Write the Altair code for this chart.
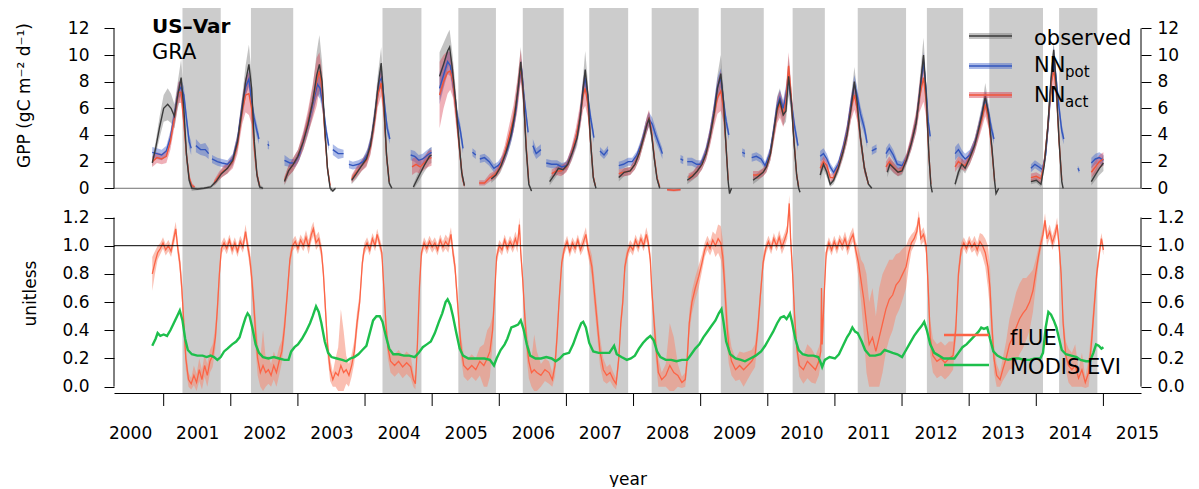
import altair as alt
import pandas as pd

FONT = "DejaVu Sans"

# ---------------- data ----------------
DRY_START = [2001.28, 2002.30, 2004.26, 2005.39, 2006.35, 2007.34, 2008.27,
             2009.30, 2010.37, 2011.34, 2012.37, 2013.30, 2014.34]
DRY_END = [2001.85, 2002.93, 2004.84, 2005.95, 2006.96, 2007.92, 2008.97,
           2009.94, 2010.85, 2012.06, 2012.91, 2014.10, 2014.91]

# (time, value, half-width of band); None = gap
OBS = [
    (2000.83, 1.9, 0.3), (2000.88, 3.0, 0.5), (2000.94, 4.6, 0.8), (2001.00, 6.0, 1.0),
    (2001.06, 6.3, 1.2), (2001.11, 6.0, 1.1), (2001.16, 5.4, 0.9), (2001.21, 7.0, 1.0),
    (2001.26, 8.3, 1.4), (2001.30, 6.0, 1.0), (2001.34, 2.5, 0.6), (2001.38, 0.6, 0.3),
    (2001.42, 0.0, 0.2), (2001.50, -0.05, 0.1), (2001.60, 0.0, 0.1), (2001.70, 0.1, 0.1),
    (2001.78, 0.5, 0.2), (2001.86, 1.1, 0.3), (2001.95, 1.5, 0.4), (2002.03, 2.1, 0.4),
    (2002.10, 3.5, 0.6), (2002.17, 6.0, 0.9), (2002.22, 8.0, 1.2), (2002.27, 9.3, 1.5),
    (2002.31, 7.5, 1.0), (2002.35, 3.5, 0.6), (2002.39, 1.0, 0.3), (2002.43, 0.1, 0.2),
    (2002.48, 0.0, 0.1), None,
    (2002.80, 0.5, 0.3), (2002.86, 1.3, 0.4), (2002.93, 1.8, 0.5), (2003.00, 2.4, 0.5),
    (2003.08, 3.5, 0.6), (2003.15, 4.8, 0.8), (2003.22, 6.5, 1.1), (2003.28, 8.5, 1.7),
    (2003.32, 9.3, 2.2), (2003.36, 8.0, 1.5), (2003.40, 4.5, 0.8), (2003.44, 1.5, 0.4),
    (2003.48, 0.0, 0.2), (2003.52, -0.2, 0.1), (2003.56, 0.0, 0.1), None,
    (2003.80, 0.6, 0.3), (2003.87, 1.1, 0.4), (2003.95, 1.7, 0.4), (2004.02, 2.2, 0.5),
    (2004.08, 3.2, 0.6), (2004.14, 5.2, 0.8), (2004.19, 7.5, 1.0), (2004.24, 9.4, 1.2),
    (2004.28, 6.5, 1.0), (2004.32, 2.5, 0.6), (2004.36, 0.4, 0.2), (2004.40, 0.0, 0.1), None,
    (2004.72, 0.1, 0.2), (2004.80, 0.9, 0.4), (2004.88, 1.7, 0.5), (2004.96, 2.4, 0.6),
    (2004.99, 2.5, 0.6), None,
    (2005.11, 8.4, 1.8), (2005.17, 9.3, 1.6), (2005.23, 10.3, 1.3), (2005.26, 10.6, 1.3),
    (2005.30, 9.0, 1.2), (2005.35, 6.5, 1.0), (2005.40, 3.5, 0.7), (2005.44, 1.2, 0.4),
    (2005.48, 0.2, 0.2), None,
    (2005.88, 0.7, 0.3), (2005.95, 1.0, 0.3), (2006.02, 1.6, 0.4), (2006.10, 2.7, 0.5),
    (2006.17, 3.9, 0.6), (2006.23, 5.5, 0.8), (2006.28, 7.5, 1.0), (2006.32, 9.5, 1.1),
    (2006.36, 7.0, 1.0), (2006.40, 3.0, 0.6), (2006.44, 0.3, 0.2), (2006.48, -0.2, 0.1), None,
    (2006.75, 0.5, 0.3), (2006.82, 1.0, 0.3), (2006.88, 1.5, 0.4), (2006.95, 1.4, 0.4),
    (2007.02, 1.8, 0.4), (2007.09, 2.7, 0.5), (2007.16, 3.8, 0.6), (2007.21, 5.5, 0.8),
    (2007.25, 7.5, 1.0), (2007.28, 8.9, 1.4), (2007.32, 7.0, 1.0), (2007.36, 3.5, 0.6),
    (2007.40, 0.8, 0.3), (2007.44, 0.0, 0.1), None,
    (2007.78, 0.8, 0.3), (2007.86, 1.2, 0.3), (2007.95, 1.3, 0.3), (2008.02, 1.8, 0.4),
    (2008.09, 2.7, 0.5), (2008.15, 3.8, 0.5), (2008.20, 4.8, 0.6), (2008.23, 5.2, 0.6),
    (2008.27, 4.0, 0.5), (2008.31, 2.2, 0.4), (2008.35, 0.7, 0.2), (2008.39, 0.0, 0.1), None,
    (2008.80, 0.6, 0.3), (2008.88, 0.9, 0.3), (2008.95, 1.3, 0.4), (2009.02, 1.8, 0.4),
    (2009.08, 2.6, 0.5), (2009.14, 3.9, 0.6), (2009.20, 5.6, 0.8), (2009.25, 7.5, 1.0),
    (2009.30, 8.6, 1.4), (2009.34, 6.5, 1.0), (2009.38, 3.0, 0.6), (2009.41, 0.5, 0.2),
    (2009.43, -0.4, 0.1), (2009.46, 0.0, 0.1), None,
    (2009.78, 0.6, 0.3), (2009.86, 0.9, 0.3), (2009.93, 1.2, 0.3), (2009.98, 1.6, 0.4),
    (2010.04, 2.6, 0.5), (2010.09, 4.3, 0.7), (2010.14, 6.0, 0.9), (2010.18, 6.6, 0.9),
    (2010.23, 5.5, 0.8), (2010.27, 5.8, 0.8), (2010.31, 8.4, 1.5), (2010.35, 6.5, 1.0),
    (2010.39, 3.5, 0.6), (2010.43, 1.0, 0.3), (2010.46, 0.0, 0.1), (2010.48, -0.3, 0.1), None,
    (2010.78, 1.0, 0.4), (2010.83, 1.8, 0.4), (2010.88, 1.2, 0.4), (2010.93, 0.3, 0.2),
    (2010.98, 0.6, 0.3), (2011.05, 1.5, 0.4), (2011.12, 2.7, 0.5), (2011.18, 4.0, 0.6),
    (2011.24, 6.0, 0.8), (2011.29, 8.0, 1.1), (2011.33, 6.5, 0.9), (2011.38, 3.8, 0.6),
    (2011.44, 1.5, 0.4), (2011.50, 0.3, 0.1), (2011.55, 0.0, 0.1), None,
    (2011.78, 1.2, 0.4), (2011.82, 1.8, 0.4), (2011.88, 1.5, 0.4), (2011.94, 1.2, 0.3),
    (2012.00, 1.3, 0.3), (2012.07, 2.2, 0.4), (2012.14, 3.4, 0.5), (2012.21, 4.9, 0.7),
    (2012.26, 7.0, 1.0), (2012.32, 10.0, 1.3), (2012.36, 7.0, 1.0), (2012.40, 2.5, 0.5),
    (2012.43, 0.2, 0.1), (2012.45, -0.3, 0.1), None,
    (2012.79, 0.3, 0.2), (2012.84, 1.2, 0.4), (2012.89, 1.8, 0.4), (2012.94, 1.5, 0.4),
    (2013.01, 2.3, 0.5), (2013.08, 3.2, 0.5), (2013.13, 4.2, 0.6), (2013.19, 5.5, 0.7),
    (2013.24, 6.9, 1.0), (2013.29, 5.5, 0.8), (2013.34, 3.0, 0.5), (2013.38, 0.5, 0.2),
    (2013.40, -0.4, 0.1), (2013.44, 0.0, 0.1), None,
    (2013.92, 0.5, 0.2), (2014.00, 0.6, 0.2), (2014.07, 0.3, 0.2), (2014.12, 1.8, 0.4),
    (2014.17, 4.5, 0.7), (2014.22, 8.2, 1.0), (2014.26, 10.4, 0.6), (2014.30, 7.5, 0.8),
    (2014.34, 3.5, 0.5), (2014.38, 0.5, 0.2), (2014.40, 0.0, 0.1), None,
    (2014.82, 0.5, 0.3), (2014.88, 1.0, 0.4), (2014.94, 1.5, 0.5), (2015.00, 1.9, 0.6),
]

NN_POT = [
    (2000.83, 2.7, 0.4), (2000.90, 2.6, 0.4), (2000.97, 2.5, 0.4), (2001.04, 2.8, 0.4),
    (2001.10, 3.8, 0.5), (2001.16, 5.5, 0.6), (2001.22, 7.3, 0.6), (2001.26, 7.6, 0.6),
    (2001.30, 7.0, 0.6), (2001.34, 5.2, 0.6), (2001.38, 3.5, 0.5), (2001.41, 3.0, 0.5), None,
    (2001.48, 3.2, 0.5), (2001.55, 2.9, 0.4), (2001.62, 2.9, 0.5), (2001.67, 2.6, 0.4), None,
    (2001.72, 2.2, 0.3), (2001.80, 2.0, 0.3), (2001.87, 1.9, 0.3), (2001.95, 1.8, 0.3),
    (2002.03, 2.2, 0.4), (2002.10, 3.6, 0.5), (2002.17, 6.2, 0.6), (2002.22, 7.6, 0.6),
    (2002.27, 8.2, 0.6), (2002.31, 6.5, 0.5), (2002.35, 5.2, 0.5), (2002.39, 4.3, 0.5),
    (2002.42, 3.7, 0.4), None,
    (2002.55, 3.3, 0.3), (2002.57, 3.2, 0.3), None,
    (2002.80, 2.1, 0.4), (2002.88, 1.9, 0.3), (2002.95, 1.9, 0.3), (2003.02, 2.5, 0.4),
    (2003.09, 3.8, 0.5), (2003.16, 5.0, 0.6), (2003.23, 6.5, 0.7), (2003.29, 7.8, 0.8),
    (2003.33, 7.5, 0.8), (2003.38, 6.0, 0.6), (2003.42, 4.3, 0.5), (2003.46, 3.2, 0.4), None,
    (2003.52, 2.9, 0.4), (2003.60, 2.6, 0.4), (2003.68, 2.6, 0.3), None,
    (2003.76, 1.8, 0.3), (2003.82, 1.7, 0.3), (2003.90, 1.8, 0.3), (2003.97, 2.0, 0.3),
    (2004.04, 2.6, 0.4), (2004.10, 3.8, 0.5), (2004.16, 6.0, 0.6), (2004.21, 8.0, 0.7),
    (2004.25, 8.3, 0.7), (2004.29, 6.3, 0.6), (2004.33, 4.5, 0.5), (2004.37, 3.7, 0.4), None,
    (2004.68, 2.5, 0.4), (2004.74, 2.4, 0.4), (2004.80, 2.1, 0.4), (2004.86, 2.2, 0.4),
    (2004.93, 2.5, 0.4), (2004.99, 2.7, 0.4), None,
    (2005.11, 7.5, 1.2), (2005.17, 8.5, 1.0), (2005.23, 9.5, 0.9), (2005.27, 9.2, 0.8),
    (2005.32, 7.5, 0.7), (2005.37, 5.5, 0.6), (2005.42, 4.3, 0.5), (2005.46, 3.0, 0.4), None,
    (2005.60, 2.7, 0.3), (2005.65, 2.5, 0.3), None,
    (2005.71, 2.2, 0.3), (2005.78, 2.3, 0.3), (2005.85, 2.0, 0.3), (2005.92, 1.5, 0.3),
    (2005.98, 1.7, 0.3), (2006.05, 2.1, 0.4), (2006.12, 2.9, 0.4), (2006.19, 4.2, 0.5),
    (2006.25, 6.0, 0.6), (2006.30, 8.2, 0.7), (2006.33, 9.0, 0.7), (2006.37, 6.8, 0.6),
    (2006.40, 5.5, 0.5), (2006.43, 4.2, 0.4), None,
    (2006.50, 3.2, 0.5), (2006.55, 2.6, 0.4), (2006.62, 2.9, 0.4), None,
    (2006.70, 1.9, 0.3), (2006.78, 1.8, 0.3), (2006.86, 1.8, 0.3), (2006.93, 1.6, 0.3),
    (2007.00, 1.7, 0.3), (2007.07, 2.5, 0.4), (2007.14, 3.6, 0.5), (2007.20, 5.2, 0.6),
    (2007.25, 7.5, 0.7), (2007.28, 8.3, 0.7), (2007.32, 6.8, 0.6), (2007.36, 5.3, 0.5),
    (2007.41, 3.8, 0.4), None,
    (2007.50, 2.8, 0.3), (2007.56, 2.5, 0.3), (2007.62, 2.9, 0.3), None,
    (2007.78, 1.7, 0.3), (2007.85, 1.8, 0.3), (2007.92, 2.0, 0.3), (2007.98, 2.0, 0.3),
    (2008.05, 2.5, 0.3), (2008.12, 3.4, 0.4), (2008.18, 4.5, 0.5), (2008.23, 5.2, 0.5),
    (2008.28, 4.8, 0.5), (2008.33, 4.0, 0.5), (2008.38, 3.3, 0.4), (2008.43, 2.6, 0.4), None,
    (2008.70, 2.2, 0.3), (2008.74, 2.1, 0.3), None,
    (2008.80, 2.0, 0.3), (2008.87, 2.0, 0.3), (2008.94, 1.8, 0.3), (2009.00, 1.8, 0.3),
    (2009.07, 2.6, 0.4), (2009.13, 3.8, 0.5), (2009.19, 5.5, 0.6), (2009.25, 7.6, 0.7),
    (2009.30, 8.3, 0.7), (2009.34, 6.5, 0.6), (2009.38, 5.0, 0.5), (2009.42, 4.0, 0.4), None,
    (2009.62, 2.7, 0.3), (2009.66, 2.6, 0.3), None,
    (2009.76, 2.3, 0.3), (2009.83, 2.4, 0.3), (2009.90, 2.2, 0.3), (2009.96, 1.7, 0.3),
    (2010.03, 2.6, 0.4), (2010.09, 4.4, 0.5), (2010.14, 6.2, 0.6), (2010.18, 6.8, 0.6),
    (2010.23, 6.0, 0.6), (2010.27, 7.0, 0.7), (2010.31, 8.3, 0.8), (2010.35, 6.5, 0.6),
    (2010.40, 4.6, 0.5), (2010.45, 3.2, 0.4), None,
    (2010.78, 2.4, 0.4), (2010.83, 2.6, 0.4), (2010.88, 2.2, 0.4), (2010.93, 1.6, 0.3),
    (2010.98, 1.2, 0.3), (2011.05, 1.8, 0.3), (2011.12, 3.0, 0.4), (2011.18, 4.3, 0.5),
    (2011.24, 6.3, 0.6), (2011.29, 7.8, 0.7), (2011.33, 7.0, 0.6), (2011.38, 5.6, 0.6),
    (2011.44, 4.5, 0.5), (2011.48, 3.4, 0.4), None,
    (2011.55, 2.8, 0.3), (2011.62, 3.0, 0.3), None,
    (2011.76, 2.6, 0.4), (2011.81, 3.0, 0.4), (2011.87, 2.5, 0.4), (2011.93, 1.8, 0.3),
    (2012.00, 1.7, 0.3), (2012.07, 2.3, 0.3), (2012.14, 3.5, 0.4), (2012.21, 5.0, 0.5),
    (2012.26, 7.0, 0.6), (2012.32, 9.5, 0.7), (2012.36, 7.3, 0.6), (2012.39, 5.0, 0.5),
    (2012.42, 3.9, 0.4), None,
    (2012.79, 2.6, 0.5), (2012.84, 2.9, 0.5), (2012.89, 2.5, 0.4), (2012.94, 2.2, 0.4),
    (2013.01, 2.5, 0.4), (2013.08, 3.3, 0.4), (2013.14, 4.4, 0.5), (2013.19, 5.6, 0.5),
    (2013.24, 6.7, 0.6), (2013.29, 5.7, 0.5), (2013.33, 4.5, 0.5), (2013.37, 3.7, 0.4), None,
    (2013.92, 1.5, 0.3), (2013.98, 1.8, 0.3), (2014.04, 1.6, 0.3), (2014.09, 1.4, 0.3),
    (2014.14, 2.5, 0.4), (2014.19, 5.5, 0.6), (2014.23, 8.5, 0.7), (2014.26, 10.0, 0.7),
    (2014.30, 8.0, 0.6), (2014.34, 6.0, 0.6), (2014.38, 4.3, 0.5), (2014.41, 3.7, 0.4), None,
    (2014.62, 1.5, 0.2), (2014.64, 1.3, 0.2), None,
    (2014.82, 1.9, 0.4), (2014.88, 2.2, 0.4), (2014.94, 2.3, 0.4), (2015.00, 2.1, 0.4),
]

NN_ACT = [
    (2000.83, 2.0, 0.4), (2000.90, 2.3, 0.4), (2000.97, 2.2, 0.4), (2001.04, 2.4, 0.5),
    (2001.10, 3.5, 0.6), (2001.16, 5.3, 0.7), (2001.22, 7.2, 0.8), (2001.26, 7.2, 0.8),
    (2001.30, 5.0, 0.7), (2001.34, 2.5, 0.5), (2001.38, 0.8, 0.3), (2001.42, 0.2, 0.2),
    (2001.46, 0.1, 0.1), None,
    (2001.75, 0.4, 0.2), (2001.82, 0.9, 0.3), (2001.89, 1.3, 0.4), (2001.95, 1.5, 0.4),
    (2002.03, 2.0, 0.5), (2002.10, 3.3, 0.7), (2002.17, 5.8, 1.0), (2002.22, 7.0, 1.3),
    (2002.27, 7.1, 1.6), (2002.31, 6.0, 1.2), (2002.35, 3.0, 0.7), (2002.39, 1.0, 0.4),
    (2002.43, 0.2, 0.2), None,
    (2002.80, 0.6, 0.3), (2002.86, 1.3, 0.4), (2002.93, 1.8, 0.5), (2003.00, 2.4, 0.5),
    (2003.08, 3.6, 0.7), (2003.15, 5.0, 0.9), (2003.22, 6.5, 1.3), (2003.28, 8.0, 1.8),
    (2003.32, 8.8, 1.4), (2003.36, 7.5, 1.2), (2003.40, 4.3, 0.8), (2003.44, 1.5, 0.4),
    (2003.48, 0.2, 0.2), None,
    (2003.80, 0.7, 0.3), (2003.87, 1.2, 0.4), (2003.95, 1.7, 0.4), (2004.02, 2.1, 0.5),
    (2004.08, 3.1, 0.6), (2004.14, 5.0, 0.8), (2004.19, 7.0, 0.9), (2004.24, 7.9, 1.0),
    (2004.28, 6.0, 0.9), (2004.32, 2.5, 0.6), (2004.36, 0.5, 0.2), None,
    (2004.70, 1.6, 0.6), (2004.76, 1.8, 0.6), (2004.82, 1.6, 0.5), (2004.88, 1.9, 0.5),
    (2004.94, 2.2, 0.6), (2004.99, 2.3, 0.6), None,
    (2005.11, 7.0, 2.5), (2005.17, 8.0, 2.0), (2005.23, 8.7, 1.6), (2005.27, 8.8, 1.4),
    (2005.31, 8.0, 1.2), (2005.36, 5.5, 1.0), (2005.41, 2.8, 0.6), (2005.45, 0.8, 0.3),
    (2005.48, 0.2, 0.2), None,
    (2005.70, 0.4, 0.2), (2005.78, 0.4, 0.2), (2005.86, 0.8, 0.3), (2005.93, 1.0, 0.3),
    (2006.00, 1.5, 0.4), (2006.08, 2.6, 0.6), (2006.15, 4.0, 0.8), (2006.21, 5.2, 1.0),
    (2006.27, 7.0, 1.2), (2006.32, 9.2, 1.2), (2006.36, 7.0, 1.0), (2006.40, 3.2, 0.6),
    (2006.44, 0.4, 0.2), None,
    (2006.78, 1.1, 0.3), (2006.85, 1.3, 0.3), (2006.92, 1.3, 0.4), (2007.00, 1.6, 0.4),
    (2007.07, 2.5, 0.5), (2007.14, 3.8, 0.7), (2007.20, 5.3, 0.9), (2007.25, 7.0, 1.1),
    (2007.28, 7.5, 1.3), (2007.32, 6.3, 1.0), (2007.36, 3.5, 0.6), (2007.40, 0.9, 0.3),
    (2007.43, 0.2, 0.1), None,
    (2007.78, 1.1, 0.3), (2007.86, 1.2, 0.3), (2007.95, 1.3, 0.3), (2008.02, 1.8, 0.4),
    (2008.09, 2.7, 0.5), (2008.15, 3.8, 0.5), (2008.20, 4.8, 0.6), (2008.23, 5.3, 0.6),
    (2008.27, 4.2, 0.5), (2008.31, 2.3, 0.4), (2008.35, 0.8, 0.2), (2008.39, 0.1, 0.1), None,
    (2008.50, -0.1, 0.1), (2008.60, -0.15, 0.1), (2008.70, -0.1, 0.1), None,
    (2008.82, 0.8, 0.3), (2008.89, 1.0, 0.3), (2008.95, 1.3, 0.4), (2009.02, 1.8, 0.4),
    (2009.08, 2.6, 0.5), (2009.14, 3.9, 0.7), (2009.20, 5.5, 0.9), (2009.25, 6.8, 1.2),
    (2009.30, 7.3, 1.5), (2009.34, 6.0, 1.0), (2009.38, 3.0, 0.6), (2009.41, 0.6, 0.3), None,
    (2009.78, 1.0, 0.3), (2009.86, 1.0, 0.3), (2009.93, 1.2, 0.3), (2009.98, 1.6, 0.4),
    (2010.04, 2.6, 0.5), (2010.09, 4.2, 0.7), (2010.14, 5.8, 0.9), (2010.18, 6.3, 1.0),
    (2010.23, 5.5, 0.9), (2010.27, 6.5, 1.0), (2010.31, 9.2, 1.0), (2010.35, 6.8, 0.9),
    (2010.39, 3.6, 0.6), (2010.43, 1.0, 0.3), (2010.46, 0.1, 0.1), None,
    (2010.78, 1.5, 0.4), (2010.83, 2.0, 0.4), (2010.88, 1.7, 0.4), (2010.93, 0.8, 0.3),
    (2010.98, 0.8, 0.3), (2011.05, 1.6, 0.4), (2011.12, 2.8, 0.5), (2011.18, 4.1, 0.7),
    (2011.24, 6.0, 0.9), (2011.29, 7.0, 1.1), (2011.33, 6.0, 0.9), (2011.38, 3.8, 0.6),
    (2011.44, 1.5, 0.4), (2011.50, 0.3, 0.1), None,
    (2011.76, 1.6, 0.4), (2011.81, 2.0, 0.4), (2011.87, 1.6, 0.4), (2011.94, 1.2, 0.3),
    (2012.00, 1.4, 0.3), (2012.07, 2.3, 0.4), (2012.14, 3.5, 0.6), (2012.21, 5.0, 0.8),
    (2012.26, 6.8, 1.1), (2012.32, 8.3, 1.8), (2012.36, 6.5, 1.2), (2012.40, 2.5, 0.5),
    (2012.43, 0.3, 0.1), None,
    (2012.79, 1.6, 0.4), (2012.84, 2.0, 0.4), (2012.89, 1.8, 0.4), (2012.94, 1.7, 0.4),
    (2013.01, 2.3, 0.5), (2013.08, 3.2, 0.5), (2013.13, 4.1, 0.6), (2013.19, 5.2, 0.7),
    (2013.24, 6.3, 0.9), (2013.29, 5.2, 0.7), (2013.34, 2.8, 0.5), (2013.38, 0.5, 0.2), None,
    (2013.92, 0.8, 0.3), (2014.00, 0.9, 0.3), (2014.07, 0.7, 0.3), (2014.12, 2.0, 0.4),
    (2014.17, 4.5, 0.7), (2014.22, 7.8, 1.0), (2014.26, 8.9, 1.1), (2014.30, 7.2, 0.8),
    (2014.34, 3.5, 0.5), (2014.38, 0.6, 0.2), None,
    (2014.82, 1.2, 0.4), (2014.88, 1.6, 0.5), (2014.94, 2.0, 0.5), (2015.00, 2.2, 0.5),
]

FLUE = [
    (2000.83, 0.80, 0.12), (2000.87, 0.88, 0.08), (2000.91, 0.95, 0.05), (2000.95, 0.98, 0.04),
    (2000.99, 1.02, 0.04), (2001.03, 0.97, 0.04), (2001.07, 1.00, 0.04), (2001.11, 0.96, 0.04),
    (2001.15, 1.05, 0.05), (2001.18, 1.12, 0.05), (2001.21, 0.98, 0.05), (2001.24, 0.88, 0.06),
    (2001.27, 0.70, 0.08), (2001.30, 0.45, 0.08), (2001.33, 0.20, 0.08), (2001.37, 0.05, 0.05),
    (2001.41, 0.02, 0.04), (2001.45, 0.08, 0.07), (2001.49, 0.03, 0.06), (2001.53, 0.12, 0.08),
    (2001.57, 0.05, 0.07), (2001.61, 0.15, 0.08), (2001.65, 0.08, 0.08), (2001.69, 0.18, 0.08),
    (2001.73, 0.22, 0.08), (2001.77, 0.35, 0.08), (2001.80, 0.55, 0.08), (2001.83, 0.80, 0.05),
    (2001.86, 0.98, 0.04), (2001.90, 1.02, 0.04), (2001.94, 0.98, 0.04), (2001.98, 1.04, 0.04),
    (2002.02, 0.97, 0.04), (2002.06, 1.02, 0.04), (2002.10, 0.96, 0.04), (2002.14, 1.03, 0.04),
    (2002.18, 0.99, 0.04), (2002.22, 1.10, 0.05), (2002.25, 1.00, 0.05), (2002.28, 0.92, 0.06),
    (2002.31, 0.78, 0.08), (2002.34, 0.60, 0.10), (2002.37, 0.38, 0.12), (2002.40, 0.20, 0.12),
    (2002.44, 0.10, 0.10), (2002.48, 0.15, 0.25), (2002.52, 0.10, 0.10), (2002.56, 0.12, 0.10),
    (2002.60, 0.08, 0.08), (2002.64, 0.15, 0.10), (2002.68, 0.10, 0.10), (2002.72, 0.18, 0.10),
    (2002.76, 0.25, 0.08), (2002.80, 0.42, 0.08), (2002.84, 0.65, 0.06), (2002.88, 0.90, 0.05),
    (2002.92, 1.00, 0.04), (2002.96, 1.03, 0.04), (2003.00, 0.98, 0.04), (2003.04, 1.04, 0.04),
    (2003.08, 1.00, 0.04), (2003.12, 1.06, 0.05), (2003.16, 0.99, 0.05), (2003.20, 1.08, 0.05),
    (2003.23, 1.12, 0.05), (2003.27, 1.02, 0.05), (2003.31, 1.05, 0.05), (2003.35, 0.96, 0.05),
    (2003.38, 0.80, 0.06), (2003.41, 0.55, 0.08), (2003.44, 0.30, 0.08), (2003.48, 0.12, 0.08),
    (2003.52, 0.05, 0.05), (2003.56, 0.10, 0.10), (2003.60, 0.08, 0.20), (2003.64, 0.15, 0.40),
    (2003.68, 0.10, 0.30), (2003.72, 0.12, 0.10), (2003.76, 0.08, 0.08), (2003.80, 0.15, 0.08),
    (2003.84, 0.25, 0.08), (2003.88, 0.45, 0.08), (2003.92, 0.60, 0.06), (2003.96, 0.88, 0.05),
    (2003.99, 0.98, 0.04), (2004.03, 1.02, 0.04), (2004.07, 0.97, 0.04), (2004.11, 1.05, 0.04),
    (2004.15, 1.00, 0.04), (2004.18, 1.08, 0.04), (2004.22, 1.01, 0.04), (2004.25, 0.95, 0.05),
    (2004.28, 0.70, 0.06), (2004.31, 0.45, 0.07), (2004.34, 0.28, 0.08), (2004.38, 0.18, 0.08),
    (2004.44, 0.15, 0.08), (2004.50, 0.18, 0.08), (2004.56, 0.14, 0.08), (2004.62, 0.17, 0.08),
    (2004.68, 0.14, 0.08), (2004.72, 0.05, 0.05), (2004.75, 0.02, 0.04), (2004.78, 0.30, 0.06),
    (2004.81, 0.70, 0.05), (2004.84, 0.95, 0.04), (2004.88, 1.02, 0.04), (2004.92, 0.98, 0.04),
    (2004.96, 1.03, 0.04), (2005.00, 0.99, 0.04), (2005.04, 1.02, 0.04), (2005.08, 0.97, 0.04),
    (2005.12, 1.04, 0.04), (2005.16, 0.99, 0.04), (2005.20, 1.03, 0.05), (2005.24, 1.00, 0.05),
    (2005.28, 1.08, 0.05), (2005.31, 0.95, 0.05), (2005.34, 0.85, 0.06), (2005.37, 0.65, 0.07),
    (2005.40, 0.45, 0.08), (2005.43, 0.28, 0.08), (2005.47, 0.15, 0.08), (2005.53, 0.12, 0.08),
    (2005.59, 0.15, 0.08), (2005.65, 0.12, 0.08), (2005.71, 0.18, 0.10), (2005.77, 0.15, 0.15),
    (2005.82, 0.20, 0.20), (2005.86, 0.25, 0.18), (2005.90, 0.40, 0.10), (2005.93, 0.65, 0.06),
    (2005.96, 0.92, 0.05), (2006.00, 1.00, 0.04), (2006.04, 0.97, 0.04), (2006.08, 1.04, 0.04),
    (2006.12, 0.98, 0.04), (2006.16, 1.03, 0.04), (2006.20, 0.99, 0.04), (2006.24, 1.05, 0.05),
    (2006.27, 1.00, 0.05), (2006.30, 1.15, 0.05), (2006.32, 0.95, 0.05), (2006.35, 0.75, 0.06),
    (2006.38, 0.50, 0.08), (2006.41, 0.30, 0.10), (2006.44, 0.18, 0.12), (2006.48, 0.10, 0.10),
    (2006.52, 0.12, 0.25), (2006.56, 0.10, 0.15), (2006.62, 0.08, 0.08), (2006.68, 0.12, 0.08),
    (2006.74, 0.10, 0.08), (2006.79, 0.05, 0.05), (2006.83, 0.15, 0.08), (2006.86, 0.35, 0.08),
    (2006.89, 0.60, 0.06), (2006.93, 0.88, 0.05), (2006.97, 0.98, 0.04), (2007.01, 1.03, 0.04),
    (2007.05, 0.96, 0.04), (2007.09, 1.02, 0.04), (2007.13, 0.98, 0.04), (2007.17, 1.04, 0.04),
    (2007.21, 0.97, 0.04), (2007.25, 1.02, 0.05), (2007.29, 1.08, 0.05), (2007.32, 0.98, 0.05),
    (2007.35, 0.92, 0.06), (2007.38, 0.85, 0.08), (2007.41, 0.70, 0.10), (2007.44, 0.55, 0.10),
    (2007.47, 0.40, 0.10), (2007.50, 0.25, 0.10), (2007.55, 0.12, 0.08), (2007.60, 0.08, 0.06),
    (2007.65, 0.10, 0.06), (2007.70, 0.05, 0.05), (2007.74, 0.02, 0.04), (2007.78, 0.20, 0.06),
    (2007.81, 0.45, 0.06), (2007.84, 0.60, 0.06), (2007.87, 0.85, 0.05), (2007.91, 0.95, 0.04),
    (2007.95, 1.00, 0.04), (2007.99, 0.97, 0.04), (2008.03, 1.04, 0.04), (2008.07, 0.99, 0.04),
    (2008.11, 1.05, 0.04), (2008.15, 1.00, 0.04), (2008.19, 1.08, 0.05), (2008.22, 1.02, 0.05),
    (2008.25, 0.90, 0.05), (2008.27, 0.70, 0.06), (2008.30, 0.50, 0.08), (2008.33, 0.30, 0.10),
    (2008.37, 0.10, 0.10), (2008.42, 0.05, 0.05), (2008.48, 0.08, 0.08), (2008.54, 0.15, 0.30),
    (2008.60, 0.10, 0.25), (2008.66, 0.08, 0.08), (2008.72, 0.03, 0.04), (2008.77, 0.05, 0.05),
    (2008.80, 0.20, 0.08), (2008.83, 0.45, 0.08), (2008.87, 0.60, 0.08), (2008.92, 0.70, 0.08),
    (2008.97, 0.78, 0.08), (2009.02, 0.88, 0.06), (2009.06, 0.97, 0.05), (2009.10, 1.02, 0.05),
    (2009.14, 0.98, 0.05), (2009.18, 1.04, 0.06), (2009.22, 1.00, 0.08), (2009.26, 1.05, 0.10),
    (2009.30, 1.02, 0.12), (2009.33, 0.92, 0.12), (2009.36, 0.70, 0.15), (2009.39, 0.45, 0.15),
    (2009.42, 0.28, 0.12), (2009.46, 0.18, 0.10), (2009.52, 0.12, 0.08), (2009.58, 0.15, 0.10),
    (2009.64, 0.12, 0.12), (2009.70, 0.15, 0.10), (2009.76, 0.18, 0.08), (2009.81, 0.22, 0.08),
    (2009.85, 0.40, 0.08), (2009.89, 0.65, 0.06), (2009.93, 0.88, 0.05), (2009.97, 0.98, 0.04),
    (2010.01, 1.03, 0.04), (2010.05, 0.98, 0.04), (2010.09, 1.05, 0.04), (2010.13, 1.00, 0.04),
    (2010.17, 1.06, 0.05), (2010.21, 0.99, 0.05), (2010.25, 1.04, 0.05), (2010.29, 1.10, 0.05),
    (2010.32, 1.30, 0.06), (2010.34, 1.05, 0.06), (2010.37, 0.80, 0.06), (2010.40, 0.50, 0.06),
    (2010.43, 0.28, 0.06), (2010.47, 0.15, 0.08), (2010.53, 0.12, 0.10), (2010.59, 0.18, 0.12),
    (2010.65, 0.15, 0.12), (2010.71, 0.12, 0.10), (2010.76, 0.18, 0.10), (2010.79, 0.25, 0.08),
    (2010.80, 0.70, 0.05), (2010.81, 0.30, 0.08), (2010.84, 0.65, 0.06), (2010.87, 0.95, 0.05),
    (2010.91, 1.02, 0.04), (2010.95, 0.97, 0.04), (2010.99, 1.03, 0.04), (2011.03, 0.98, 0.04),
    (2011.07, 1.04, 0.04), (2011.11, 1.00, 0.04), (2011.15, 1.05, 0.05), (2011.19, 0.98, 0.05),
    (2011.23, 1.04, 0.05), (2011.27, 1.08, 0.05), (2011.31, 0.97, 0.06), (2011.35, 0.88, 0.10),
    (2011.39, 0.75, 0.15), (2011.43, 0.62, 0.25), (2011.47, 0.45, 0.35), (2011.51, 0.30, 0.30),
    (2011.56, 0.35, 0.35), (2011.61, 0.25, 0.25), (2011.66, 0.35, 0.35), (2011.71, 0.45, 0.35),
    (2011.76, 0.55, 0.30), (2011.81, 0.62, 0.28), (2011.86, 0.65, 0.25), (2011.91, 0.72, 0.22),
    (2011.96, 0.75, 0.20), (2012.01, 0.80, 0.18), (2012.06, 0.85, 0.15), (2012.10, 0.95, 0.10),
    (2012.14, 1.02, 0.06), (2012.18, 1.05, 0.05), (2012.22, 1.10, 0.05), (2012.25, 1.20, 0.05),
    (2012.28, 1.05, 0.05), (2012.32, 1.08, 0.05), (2012.36, 1.00, 0.06), (2012.39, 0.70, 0.10),
    (2012.42, 0.35, 0.12), (2012.46, 0.22, 0.12), (2012.52, 0.18, 0.12), (2012.58, 0.20, 0.12),
    (2012.64, 0.17, 0.12), (2012.70, 0.20, 0.12), (2012.76, 0.22, 0.10), (2012.80, 0.40, 0.08),
    (2012.84, 0.80, 0.06), (2012.88, 0.97, 0.05), (2012.92, 1.02, 0.04), (2012.96, 0.98, 0.04),
    (2013.00, 1.03, 0.04), (2013.04, 0.99, 0.04), (2013.08, 1.02, 0.05), (2013.12, 0.97, 0.05),
    (2013.16, 1.03, 0.06), (2013.20, 1.00, 0.08), (2013.24, 0.95, 0.10), (2013.28, 0.85, 0.15),
    (2013.31, 0.70, 0.15), (2013.34, 0.42, 0.12), (2013.37, 0.20, 0.10), (2013.41, 0.08, 0.08),
    (2013.46, 0.05, 0.05), (2013.50, 0.12, 0.08), (2013.55, 0.20, 0.12), (2013.60, 0.30, 0.18),
    (2013.65, 0.35, 0.22), (2013.70, 0.42, 0.25), (2013.75, 0.48, 0.25), (2013.80, 0.52, 0.25),
    (2013.85, 0.55, 0.22), (2013.90, 0.60, 0.20), (2013.95, 0.68, 0.15), (2013.99, 0.80, 0.10),
    (2014.03, 0.92, 0.06), (2014.07, 1.02, 0.05), (2014.10, 1.08, 0.05), (2014.13, 1.18, 0.05),
    (2014.16, 1.05, 0.05), (2014.20, 1.10, 0.05), (2014.24, 1.02, 0.05), (2014.28, 1.08, 0.05),
    (2014.31, 1.15, 0.05), (2014.34, 1.00, 0.05), (2014.37, 0.80, 0.06), (2014.40, 0.45, 0.08),
    (2014.44, 0.22, 0.10), (2014.48, 0.15, 0.12), (2014.53, 0.12, 0.12), (2014.58, 0.15, 0.15),
    (2014.63, 0.06, 0.06), (2014.68, 0.12, 0.12), (2014.73, 0.03, 0.04), (2014.78, 0.10, 0.10),
    (2014.82, 0.30, 0.10), (2014.86, 0.55, 0.08), (2014.90, 0.80, 0.06), (2014.94, 0.95, 0.05),
    (2014.97, 1.05, 0.04), (2015.00, 0.97, 0.04),
]

EVI = [
    (2000.83, 0.29), (2000.88, 0.34), (2000.91, 0.38), (2000.95, 0.36), (2001.00, 0.37),
    (2001.05, 0.36), (2001.10, 0.40), (2001.15, 0.45), (2001.20, 0.50), (2001.24, 0.54),
    (2001.28, 0.47), (2001.32, 0.34), (2001.36, 0.26), (2001.42, 0.23), (2001.50, 0.22),
    (2001.58, 0.22), (2001.64, 0.21), (2001.70, 0.22), (2001.75, 0.21), (2001.80, 0.19),
    (2001.85, 0.21), (2001.90, 0.25), (2001.95, 0.27), (2002.02, 0.30), (2002.08, 0.32),
    (2002.13, 0.35), (2002.18, 0.43), (2002.22, 0.49), (2002.25, 0.52), (2002.28, 0.50),
    (2002.32, 0.42), (2002.37, 0.30), (2002.42, 0.24), (2002.48, 0.21), (2002.56, 0.20),
    (2002.64, 0.21), (2002.72, 0.20), (2002.80, 0.19), (2002.86, 0.19), (2002.90, 0.25),
    (2002.95, 0.28), (2003.00, 0.30), (2003.06, 0.34), (2003.12, 0.39), (2003.18, 0.45),
    (2003.22, 0.50), (2003.27, 0.57), (2003.31, 0.53), (2003.35, 0.45), (2003.40, 0.32),
    (2003.45, 0.24), (2003.50, 0.21), (2003.58, 0.20), (2003.66, 0.19), (2003.72, 0.18),
    (2003.78, 0.20), (2003.84, 0.21), (2003.90, 0.23), (2003.96, 0.26), (2004.02, 0.29),
    (2004.07, 0.38), (2004.12, 0.47), (2004.17, 0.50), (2004.22, 0.50), (2004.26, 0.46),
    (2004.31, 0.36), (2004.36, 0.27), (2004.42, 0.23), (2004.50, 0.23), (2004.58, 0.22),
    (2004.66, 0.22), (2004.74, 0.21), (2004.80, 0.24), (2004.86, 0.28), (2004.92, 0.30),
    (2004.98, 0.32), (2005.04, 0.38), (2005.10, 0.46), (2005.15, 0.52), (2005.20, 0.60),
    (2005.23, 0.62), (2005.27, 0.58), (2005.31, 0.50), (2005.36, 0.38), (2005.41, 0.27),
    (2005.46, 0.22), (2005.54, 0.20), (2005.62, 0.20), (2005.70, 0.20), (2005.78, 0.20),
    (2005.86, 0.19), (2005.92, 0.15), (2005.96, 0.20), (2006.02, 0.26), (2006.08, 0.30),
    (2006.12, 0.34), (2006.18, 0.42), (2006.23, 0.43), (2006.28, 0.44), (2006.32, 0.47),
    (2006.36, 0.41), (2006.41, 0.30), (2006.46, 0.22), (2006.54, 0.20), (2006.62, 0.20),
    (2006.70, 0.21), (2006.78, 0.20), (2006.84, 0.18), (2006.90, 0.20), (2006.96, 0.23),
    (2007.04, 0.24), (2007.10, 0.30), (2007.16, 0.38), (2007.22, 0.45), (2007.25, 0.46),
    (2007.29, 0.42), (2007.34, 0.31), (2007.40, 0.25), (2007.48, 0.24), (2007.56, 0.24),
    (2007.64, 0.24), (2007.71, 0.29), (2007.75, 0.23), (2007.82, 0.21), (2007.90, 0.19),
    (2007.96, 0.20), (2008.02, 0.22), (2008.08, 0.27), (2008.14, 0.31), (2008.20, 0.34),
    (2008.25, 0.36), (2008.30, 0.33), (2008.35, 0.25), (2008.40, 0.21), (2008.48, 0.19),
    (2008.56, 0.19), (2008.64, 0.18), (2008.72, 0.19), (2008.80, 0.19), (2008.86, 0.23),
    (2008.92, 0.27), (2008.98, 0.30), (2009.04, 0.35), (2009.10, 0.39), (2009.16, 0.43),
    (2009.22, 0.47), (2009.27, 0.52), (2009.31, 0.55), (2009.34, 0.46), (2009.38, 0.32),
    (2009.44, 0.23), (2009.52, 0.20), (2009.60, 0.19), (2009.66, 0.18), (2009.74, 0.20),
    (2009.82, 0.22), (2009.90, 0.25), (2009.96, 0.29), (2010.02, 0.34), (2010.08, 0.39),
    (2010.14, 0.45), (2010.19, 0.49), (2010.24, 0.50), (2010.28, 0.48), (2010.33, 0.52),
    (2010.36, 0.46), (2010.41, 0.34), (2010.46, 0.26), (2010.52, 0.23), (2010.60, 0.22),
    (2010.68, 0.22), (2010.75, 0.21), (2010.78, 0.18), (2010.81, 0.14), (2010.85, 0.19),
    (2010.92, 0.21), (2011.00, 0.20), (2011.06, 0.23), (2011.12, 0.29), (2011.18, 0.35),
    (2011.22, 0.38), (2011.26, 0.42), (2011.30, 0.39), (2011.34, 0.38), (2011.40, 0.32),
    (2011.45, 0.26), (2011.52, 0.22), (2011.60, 0.22), (2011.68, 0.23), (2011.74, 0.26),
    (2011.80, 0.25), (2011.86, 0.24), (2011.93, 0.23), (2012.00, 0.21), (2012.06, 0.26),
    (2012.12, 0.31), (2012.18, 0.36), (2012.24, 0.40), (2012.29, 0.43), (2012.33, 0.46),
    (2012.37, 0.40), (2012.42, 0.30), (2012.48, 0.24), (2012.55, 0.22), (2012.62, 0.20),
    (2012.70, 0.20), (2012.78, 0.20), (2012.84, 0.24), (2012.90, 0.28), (2012.96, 0.30),
    (2013.02, 0.33), (2013.08, 0.36), (2013.14, 0.39), (2013.18, 0.42), (2013.22, 0.41),
    (2013.27, 0.42), (2013.31, 0.34), (2013.36, 0.25), (2013.42, 0.22), (2013.50, 0.20),
    (2013.58, 0.19), (2013.66, 0.20), (2013.74, 0.20), (2013.82, 0.19), (2013.90, 0.19),
    (2013.98, 0.20), (2014.06, 0.20), (2014.10, 0.24), (2014.14, 0.42), (2014.18, 0.53),
    (2014.22, 0.51), (2014.26, 0.47), (2014.30, 0.42), (2014.34, 0.34), (2014.38, 0.26),
    (2014.44, 0.23), (2014.52, 0.22), (2014.60, 0.21), (2014.66, 0.19), (2014.74, 0.18),
    (2014.80, 0.18), (2014.85, 0.24), (2014.89, 0.30), (2014.93, 0.29), (2014.97, 0.27),
    (2015.00, 0.28),
]

GPP_TICKS = [0, 2, 4, 6, 8, 10, 12]
UNITLESS_TICKS = [0.0, 0.2, 0.4, 0.6, 0.8, 1.0, 1.2]
YEAR_TICKS = list(range(2001, 2016))              # tick marks at year boundaries
YEAR_LABEL_POS = [y + 0.5 for y in range(2000, 2016)]  # labels centred in each year

# ---------------- helpers ----------------
def seg_frame(rows, floor=None):
    out, seg = [], 0
    for r in rows:
        if r is None:
            seg += 1
            continue
        d = {"t": r[0], "v": r[1], "seg": seg}
        if len(r) > 2:
            lo = r[1] - r[2]
            if floor is not None:
                lo = max(lo, floor)
            d["lo"] = lo
            d["hi"] = r[1] + r[2]
        out.append(d)
    return pd.DataFrame(out)


obs_df = seg_frame(OBS)
pot_df = seg_frame(NN_POT)
act_df = seg_frame(NN_ACT)
flue_df = seg_frame(FLUE, floor=-0.03)
evi_df = seg_frame(EVI)
bands_df = pd.DataFrame({"start": DRY_START, "end": DRY_END})
ticks_df = pd.DataFrame({"yr": YEAR_TICKS})
one = pd.DataFrame({"k": [0]})

W, HT, HB = 1027, 194, 191
BAND = "#cccccc"

xs = alt.Scale(domain=[2000.26, 2015.56], nice=False, zero=False)
ysT = alt.Scale(domain=[-1.03, 13.53], nice=False, zero=False)
ysB = alt.Scale(domain=[-0.045, 1.31], nice=False, zero=False)

xaxis = alt.Axis(
    values=YEAR_LABEL_POS, labelExpr="floor(datum.value)", ticks=False,
    labelBaseline="alphabetic", labelPadding=45, domainColor="black", domainWidth=1,
    title="year", titleBaseline="alphabetic", titleY=91, labelFlush=False,
    labelOverlap=False, grid=False,
)


def bands(h, axis):
    return alt.Chart(bands_df).mark_rect(color=BAND).encode(
        x=alt.X("start:Q", scale=xs, axis=axis), x2="end:Q",
        y=alt.value(0), y2=alt.value(h))


def area(df, color, op, ys):
    return alt.Chart(df).mark_area(color=color, opacity=op).encode(
        x=alt.X("t:Q", scale=xs, axis=None),
        y=alt.Y("lo:Q", scale=ys, axis=None), y2="hi:Q",
        detail="seg:N")


def line(df, color, w, ys):
    return alt.Chart(df).mark_line(color=color, strokeWidth=w).encode(
        x=alt.X("t:Q", scale=xs, axis=None),
        y=alt.Y("v:Q", scale=ys, axis=None),
        detail="seg:N")


def axis_rules(ys, lo, hi, ticks, fmt, title, title_x, title_y):
    d = pd.DataFrame({"a": [lo], "b": [hi]})
    left_ax = alt.Axis(orient="left", values=ticks, format=fmt, domain=False, tickSize=10,
                       labelPadding=15, title=title, titleX=title_x, titleY=title_y,
                       labelFlush=False, labelOverlap=False, grid=False)
    right_ax = alt.Axis(orient="right", values=ticks, format=fmt, domain=False, tickSize=10,
                        labelPadding=6, title=None, labelFlush=False, labelOverlap=False,
                        grid=False)
    left = alt.Chart(d).mark_rule(color="black", strokeWidth=1).encode(
        x=alt.value(0), y=alt.Y("a:Q", scale=ys, axis=left_ax), y2="b:Q")
    right = alt.Chart(d).mark_rule(color="black", strokeWidth=1).encode(
        x=alt.value(W), y=alt.Y("a:Q", scale=ys, axis=right_ax), y2="b:Q")
    return left, right


def txt(x, y, s, size=21, weight="normal"):
    return alt.Chart(one).mark_text(align="left", baseline="alphabetic", font=FONT,
                                    fontSize=size, fontWeight=weight, color="black").encode(
        x=alt.value(x), y=alt.value(y), text=alt.value(s))


def swatch(x1, x2, y, color, fill):
    a = alt.Chart(one).mark_rule(color=fill, strokeWidth=6, opacity=0.45).encode(
        x=alt.value(x1), x2=alt.value(x2), y=alt.value(y))
    b = alt.Chart(one).mark_rule(color=color, strokeWidth=1.6).encode(
        x=alt.value(x1), x2=alt.value(x2), y=alt.value(y))
    return [a, b]


OBS_LINE, OBS_FILL = "#3a3a3a", "#7a7a7a"
POT_LINE, POT_FILL = "#3356bd", "#4466cc"
ACT_LINE, ACT_FILL = "#f0553a", "#d83a4e"
FLUE_LINE, FLUE_FILL = "#fc6446", "#f68a72"
EVI_COL = "#1dbf4c"

# ---------------- top panel ----------------
zero = alt.Chart(pd.DataFrame({"z": [0]})).mark_rule(color="#707070", strokeWidth=1).encode(
    y=alt.Y("z:Q", scale=ysT, axis=None))
lT, rT = axis_rules(ysT, 0, 12, GPP_TICKS, "d", "GPP (gC m\u207b\u00b2 d\u207b\u00b9)", -81, 87)

top_layers = [
    bands(HT, None),
    area(obs_df, OBS_FILL, 0.45, ysT),
    area(pot_df, POT_FILL, 0.45, ysT),
    area(act_df, ACT_FILL, 0.40, ysT),
    zero,
    line(pot_df, POT_LINE, 1.4, ysT),
    line(act_df, ACT_LINE, 1.4, ysT),
    line(obs_df, OBS_LINE, 1.4, ysT),
    lT, rT,
    txt(38, 25, "US\u2013Var", 20, "bold"),
    txt(38, 51, "GRA", 21),
]
top_layers += swatch(855, 898, 28, OBS_LINE, OBS_FILL) + [txt(920, 37, "observed")]
top_layers += swatch(855, 898, 58, POT_LINE, POT_FILL) + [txt(920, 64, "NN"), txt(951, 69, "pot", 15)]
top_layers += swatch(855, 898, 87, ACT_LINE, ACT_FILL) + [txt(920, 94, "NN"), txt(951, 99, "act", 15)]

top = alt.layer(*top_layers).properties(width=W, height=HT).resolve_axis(
    x="independent", y="independent")

# ---------------- bottom panel ----------------
one_line = alt.Chart(pd.DataFrame({"z": [1.0]})).mark_rule(color="black", strokeWidth=1).encode(
    y=alt.Y("z:Q", scale=ysB, axis=None))
lB, rB = axis_rules(ysB, 0, 1.2, UNITLESS_TICKS, ".1f", "unitless", -75, 91)

year_ticks = alt.Chart(ticks_df).mark_rule(color="black", strokeWidth=1).encode(
    x=alt.X("yr:Q", scale=xs, axis=None), y=alt.value(HB), y2=alt.value(HB + 13))

bot_layers = [
    bands(HB, xaxis),
    area(flue_df, FLUE_FILL, 0.55, ysB),
    line(flue_df, FLUE_LINE, 1.3, ysB),
    alt.Chart(evi_df).mark_line(color=EVI_COL, strokeWidth=2.4).encode(
        x=alt.X("t:Q", scale=xs, axis=None), y=alt.Y("v:Q", scale=ysB, axis=None)),
    one_line,
    year_ticks,
    lB, rB,
]
bot_layers += [alt.Chart(one).mark_rule(color=FLUE_LINE, strokeWidth=2.5).encode(
    x=alt.value(830), x2=alt.value(875), y=alt.value(133)), txt(896, 143, "fLUE")]
bot_layers += [alt.Chart(one).mark_rule(color=EVI_COL, strokeWidth=2.5).encode(
    x=alt.value(830), x2=alt.value(875), y=alt.value(163)), txt(896, 172, "MODIS EVI")]

bottom = alt.layer(*bot_layers).properties(width=W, height=HB).resolve_axis(
    x="independent", y="independent")

chart = alt.vconcat(top, bottom, spacing=0, bounds="flush").properties(
    padding={"left": 14, "top": 8, "right": 0, "bottom": 0},
    background="white",
).configure_view(stroke=None).configure_axis(
    labelFont=FONT, labelFontSize=17, labelColor="black",
    titleFont=FONT, titleFontSize=17, titleFontWeight="normal", titleColor="black",
    tickColor="black", tickWidth=1,
)

chart.save("out.html", embed_options={"renderer": "svg", "actions": False})
